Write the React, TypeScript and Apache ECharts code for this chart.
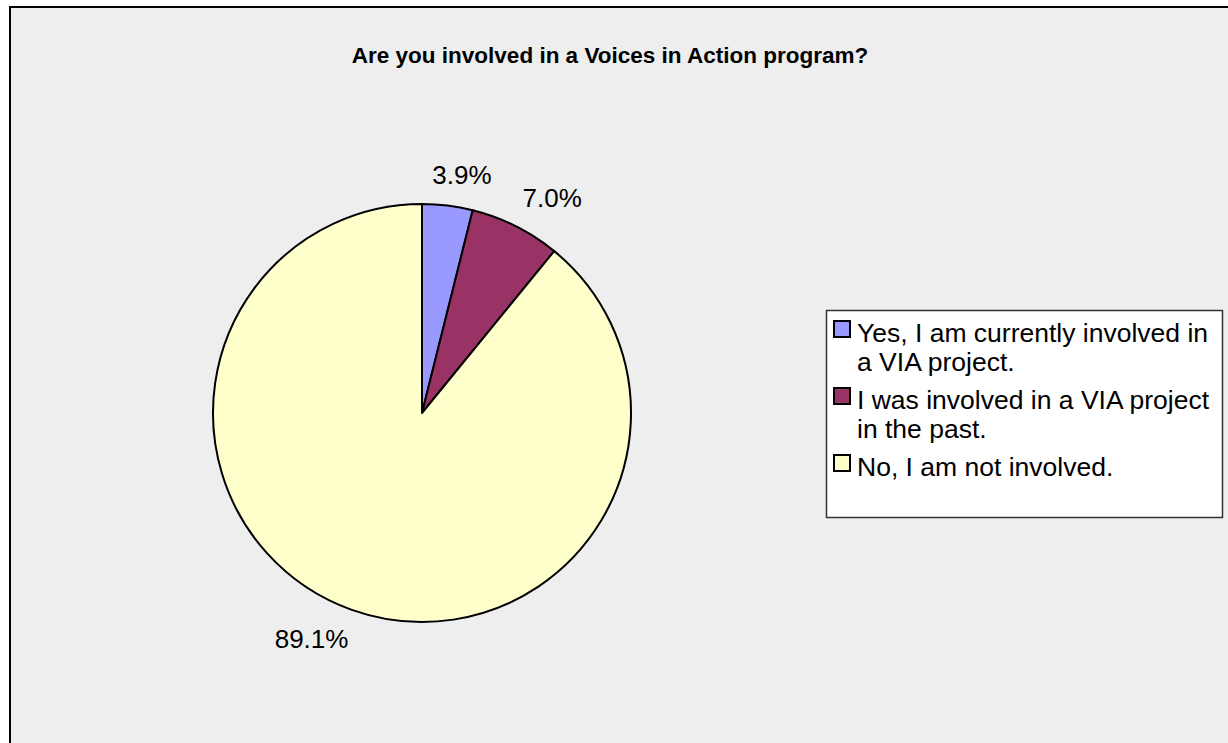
import React, { useEffect, useRef } from "react";
import * as echarts from "echarts";

const TITLE = "Are you involved in a Voices in Action program?";
const categories = [
  "Yes, I am currently involved in a VIA project.",
  "I was involved in a VIA project in the past.",
  "No, I am not involved.",
];
const legendLines = [
  "Yes, I am currently involved in\na VIA project.",
  "I was involved in a VIA project\nin the past.",
  "No, I am not involved.",
];
const values = [3.9, 7.0, 89.1];
const colors = ["#9999ff", "#993366", "#ffffcc"];
const labelNudgeX = [-19, -7, 7];

const FONT = "'Liberation Sans', Arial, Helvetica, sans-serif";

export default function App() {
  const ref = useRef<HTMLDivElement>(null);
  useEffect(() => {
    if (!ref.current) return;
    const chart = echarts.init(ref.current, undefined, { renderer: "svg" });

    const LX = 834;
    const TX = 857;
    const S = 28.5;
    const G = 10;
    let cy = 333;
    const legendEls: any[] = [];
    legendLines.forEach((txt, i) => {
      const n = txt.split("\n").length;
      legendEls.push({
        type: "rect",
        shape: { x: LX, y: cy - 12, width: 16, height: 16 },
        style: { fill: colors[i], stroke: "#000", lineWidth: 2 },
        z: 10,
      });
      legendEls.push({
        type: "text",
        x: TX,
        y: cy - S / 2,
        style: {
          text: txt,
          font: `26.5px ${FONT}`,
          fill: "#000",
          lineHeight: S,
          verticalAlign: "top",
          align: "left",
        },
        z: 10,
      });
      cy += n * S + G;
    });

    chart.setOption({
      animation: false,
      backgroundColor: "#ffffff",
      title: {
        text: TITLE,
        left: 610,
        top: 44,
        padding: 0,
        textAlign: "center",
        textStyle: {
          fontFamily: FONT,
          fontSize: 22.5,
          fontWeight: "bold",
          color: "#000",
        },
      },
      graphic: [
        {
          type: "rect",
          shape: { x: 10, y: 7, width: 1300, height: 800 },
          style: { fill: "#eeeeee", stroke: "#000", lineWidth: 2 },
          z: -10,
          silent: true,
        },
        {
          type: "rect",
          shape: { x: 826.5, y: 310.5, width: 396, height: 207 },
          style: { fill: "#ffffff", stroke: "#333", lineWidth: 1.5 },
          z: 5,
          silent: true,
        },
        ...legendEls,
      ],
      series: [
        {
          type: "pie",
          center: [422, 413],
          radius: 209,
          startAngle: 90,
          clockwise: true,
          avoidLabelOverlap: false,
          data: categories.map((name, i) => ({
            name,
            value: values[i],
            itemStyle: { color: colors[i] },
          })),
          itemStyle: { borderColor: "#000", borderWidth: 2 },
          label: {
            show: true,
            position: "outside",
            formatter: (p: any) => `${Number(p.value).toFixed(1)}%`,
            fontFamily: FONT,
            fontSize: 26,
            color: "#000",
            distanceToLabelLine: 0,
          },
          labelLine: { show: false, length: 31, length2: 0 },
          labelLayout: (p: any) => ({ dx: labelNudgeX[p.dataIndex] }),
          emphasis: { disabled: true },
        },
      ],
    });
    return () => chart.dispose();
  }, []);
  return (
    <div
      ref={ref}
      style={{ position: "fixed", left: 0, top: 0, width: 1228, height: 743 }}
    />
  );
}
